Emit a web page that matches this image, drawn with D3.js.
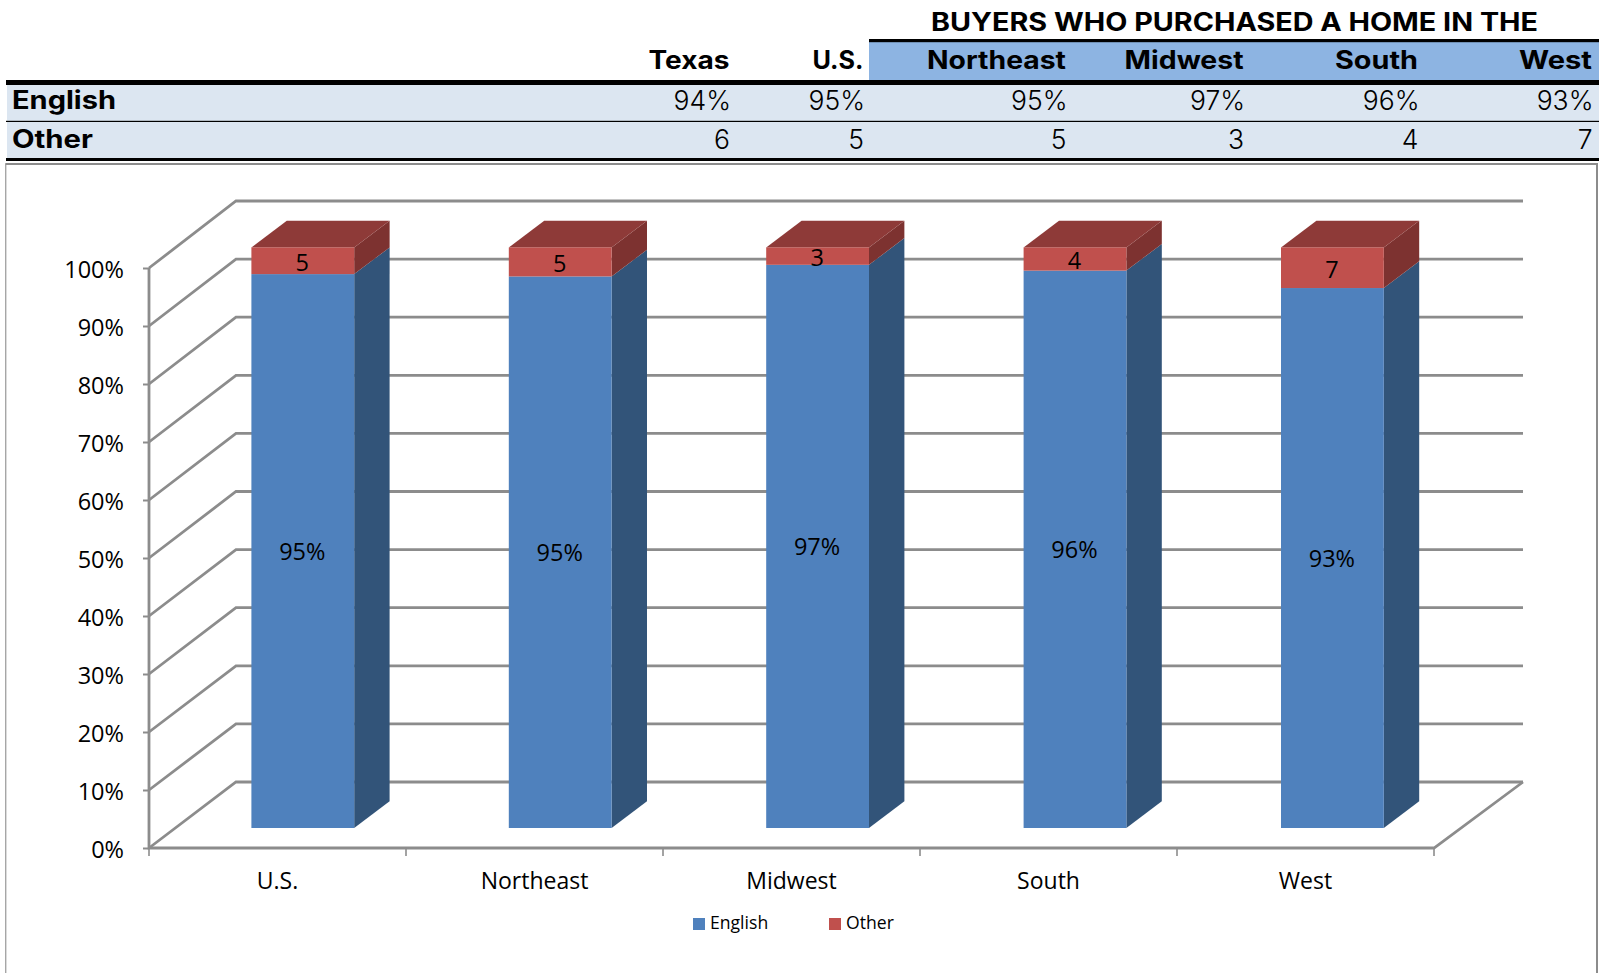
<!DOCTYPE html>
<html><head><meta charset="utf-8">
<style>html,body{margin:0;padding:0;background:#fff}svg{display:block}</style>
<script src="https://cdn.jsdelivr.net/npm/d3@7"></script></head>
<body><svg id="c" width="1604" height="973"></svg>
<script>
const categories = ["U.S.","Northeast","Midwest","South","West"];
const englishValues = [95.4,95,97,96,93];
const otherValues = [4.6,5,3,4,7];
const seriesNames = ["English","Other"];
const yTicks = [0,10,20,30,40,50,60,70,80,90,100];
const tableTitle = "BUYERS WHO PURCHASED A HOME IN THE";
const tableColumns = ["Texas","U.S.","Northeast","Midwest","South","West"];
const tableEnglish = ["94%","95%","95%","97%","96%","93%"];
const tableOther = ["6","5","5","3","4","7"];

const svg = d3.select("#c");
const TF = "Inter, 'Open Sans', sans-serif", CF = "'Open Sans', sans-serif";
const GRID = "#8c8c8c";

// ---- table
const colRight = d3.scaleOrdinal().domain(tableColumns).range([729.5,863.5,1066,1243.6,1418,1592]);
const rect=(x,y,w,h,f,p=svg)=>p.append("rect").attr("x",x).attr("y",y).attr("width",w).attr("height",h).attr("fill",f);
rect(869,42,730,38,"#8DB4E2");
rect(869,39,730,3.2,"#000");
rect(6,80,1593,5,"#000");
rect(7,85,1592,36,"#DCE6F1");
rect(7,122,1592,36,"#DCE6F1");
rect(6,120.8,1593,1.2,"#000");
rect(6,158,1593,3,"#000");
const txt=(s,x,y,size,weight,anchor,fam=TF,len=null)=>{
  const t=svg.append("text").attr("x",x).attr("y",y).attr("font-family",fam).attr("font-size",size)
   .attr("font-weight",weight).attr("text-anchor",anchor).attr("fill","#000").text(s);
  if(len) t.attr("textLength",len).attr("lengthAdjust","spacingAndGlyphs");
  return t;};
txt(tableTitle,931,30.7,25,700,"start",TF,607);
const headWidths=[81,51,139,119,83,73];
tableColumns.forEach((c,i)=>{
  txt(c,colRight(c),68.5,25,700,"end",TF,headWidths[i]);
  txt(tableEnglish[i],colRight(c)+1.5,110,26.5,300,"end");
  txt(tableOther[i],colRight(c)+0.5,149,26.5,300,"end");
});
txt(seriesNames[0],12,109.4,25,700,"start",TF,104);
txt(seriesNames[1],12,148.4,25,700,"start",TF,81);

// ---- chart frame
svg.append("path").attr("d","M5.7,973V164H1597V973").attr("fill","none").attr("stroke","#a6a6a6").attr("stroke-width",1.4);
svg.append("path").attr("d","M5.7,164H1597V973").attr("fill","none").attr("stroke",GRID).attr("stroke-width",2);

// ---- scales
const x = d3.scaleBand().domain(categories).range([149,1434]);
const xBar = d3.scaleBand().domain(categories).range([149,1436]);
const yFront = d3.scaleLinear().domain([0,100]).range([848,268]);
const yBack = d3.scaleLinear().domain([0,100]).range([782,201]);
const yBar = d3.scaleLinear().domain([0,100]).range([828,247.4]);
const wallDx = 87, barLeft = 102.4, barW = 102.8, depthX = 35.4, depthY = 26.7;

// ---- walls and gridlines
const g = svg.append("g").attr("fill","none").attr("stroke",GRID).attr("stroke-width",2.8);
yTicks.forEach(v=>{
  g.append("path").attr("d",`M${x.range()[0]},${yFront(v)}L${x.range()[0]+wallDx},${yBack(v)}H${x.range()[1]+wallDx+2}`);
});
g.append("path").attr("d",`M${x.range()[0]},${yFront(100)}V${yFront(0)}H${x.range()[1]}L${x.range()[1]+wallDx+2},${yBack(0)}`);
// y axis (library axis for ticks + labels)
const yAxis = svg.append("g").attr("transform",`translate(${x.range()[0]},0)`)
  .call(d3.axisLeft(yFront).tickValues(yTicks).tickFormat(d=>d+"%").tickSize(6).tickPadding(19));
yAxis.select(".domain").remove();
yAxis.selectAll("line").attr("stroke",GRID).attr("stroke-width",2);
yAxis.selectAll("text").attr("font-family",CF).attr("font-size",23.5).attr("fill","#000").attr("dy","0.4em");
// x axis
const xAxis = svg.append("g").attr("transform",`translate(0,${yFront(0)})`)
  .call(d3.axisBottom(x).tickSize(0).tickPadding(25));
xAxis.select(".domain").remove();
xAxis.selectAll("text").attr("font-family",CF).attr("font-size",23).attr("fill","#000");
const edges = categories.map(c=>x(c)).concat([x.range()[1]]);
svg.append("g").selectAll("line").data(edges).join("line")
  .attr("x1",d=>d).attr("x2",d=>d).attr("y1",yFront(0)).attr("y2",yFront(0)+8)
  .attr("stroke",GRID).attr("stroke-width",1.6);

// ---- 3D bars
const colors = {en:"#4F81BD",enSide:"#325479",ot:"#C0504D",otSide:"#7D3230",otTop:"#8E3A38"};
const rows = categories.map((c,i)=>({c,en:englishValues[i],ot:otherValues[i]}));
const bar = svg.append("g").selectAll("g").data(rows).join("g");
const poly=(sel,fill,fn)=>sel.append("path").attr("fill",fill).attr("d",fn);
const L=d=>xBar(d.c)+barLeft, R=d=>L(d)+barW;
const Y0=yBar(0), Y1=d=>yBar(d.en), Y2=d=>yBar(d.en+d.ot);
poly(bar,colors.enSide,d=>`M${R(d)},${Y0}l${depthX},${-depthY}V${Y1(d)-depthY}L${R(d)},${Y1(d)}Z`);
poly(bar,colors.otSide,d=>`M${R(d)},${Y1(d)}l${depthX},${-depthY}V${Y2(d)-depthY}L${R(d)},${Y2(d)}Z`);
poly(bar,colors.otTop,d=>`M${L(d)},${Y2(d)}l${depthX},${-depthY}h${barW}l${-depthX},${depthY}Z`);
bar.append("rect").attr("x",L).attr("width",barW).attr("y",Y1).attr("height",d=>Y0-Y1(d)).attr("fill",colors.en);
bar.append("rect").attr("x",L).attr("width",barW).attr("y",Y2).attr("height",d=>Y1(d)-Y2(d)).attr("fill",colors.ot);
const lab=(fn,yfn,dy)=>bar.append("text").attr("x",d=>L(d)+barW/2-0.5).attr("y",yfn).attr("dy",dy)
  .attr("text-anchor","middle").attr("font-family",CF).attr("font-size",23.5).attr("fill","#000").text(fn);
lab(d=>d3.format(".0f")(d.en)+"%",d=>(Y0+Y1(d))/2,"0.38em");
lab(d=>d3.format(".0f")(d.ot),d=>(Y1(d)+Y2(d))/2,"0.42em");

// ---- legend
const legend = svg.append("g").selectAll("g").data(seriesNames).join("g")
  .attr("transform",(d,i)=>`translate(${[693,829][i]},918)`);
legend.append("rect").attr("width",12).attr("height",12).attr("fill",(d,i)=>[colors.en,colors.ot][i]);
legend.append("text").attr("x",17).attr("y",11).attr("font-family",CF).attr("font-size",17.6).attr("fill","#000").text(d=>d);
</script></body></html>
